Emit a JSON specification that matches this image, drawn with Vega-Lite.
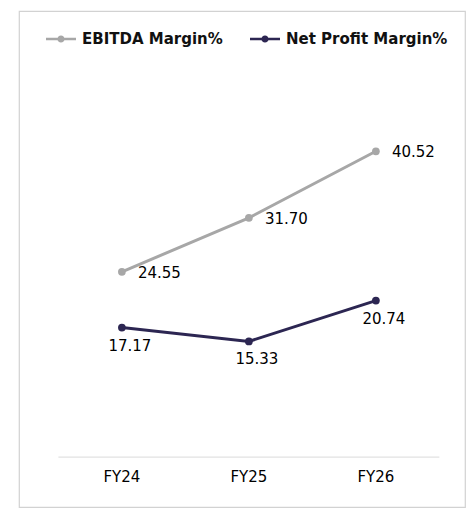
{
  "$schema": "https://vega.github.io/schema/vega-lite/v6.json",
  "width": 446,
  "height": 496,
  "autosize": {"type": "none"},
  "padding": {"left": 19, "top": 11, "right": 11, "bottom": 14},
  "background": "white",
  "config": {
    "view": {"stroke": "#d2d2d2", "strokeWidth": 1.2},
    "font": "DejaVu Sans"
  },
  "data": {
    "values": [
      {"year": "FY24", "series": "EBITDA Margin%", "value": 24.55},
      {"year": "FY25", "series": "EBITDA Margin%", "value": 31.70},
      {"year": "FY26", "series": "EBITDA Margin%", "value": 40.52},
      {"year": "FY24", "series": "Net Profit Margin%", "value": 17.17},
      {"year": "FY25", "series": "Net Profit Margin%", "value": 15.33},
      {"year": "FY26", "series": "Net Profit Margin%", "value": 20.74}
    ]
  },
  "encoding": {
    "x": {
      "field": "year",
      "type": "ordinal",
      "sort": ["FY24", "FY25", "FY26"],
      "scale": {"type": "band", "paddingInner": 0, "paddingOuter": 0.256, "align": 0.606},
      "axis": {
        "title": null,
        "orient": "bottom",
        "offset": -50,
        "domain": false,
        "ticks": false,
        "grid": false,
        "labelAngle": 0,
        "labelPadding": 12,
        "labelFont": "DejaVu Sans",
        "labelFontSize": 15,
        "labelColor": "#000000"
      }
    },
    "y": {
      "field": "value",
      "type": "quantitative",
      "scale": {"domain": [-6.6, 59.1], "nice": false, "zero": false},
      "axis": null
    }
  },
  "layer": [
    {
      "data": {"values": [{"from": "FY24", "to": "FY26", "base": 0}]},
      "mark": {"type": "rule", "color": "#e2e2e2", "strokeWidth": 1.2, "xOffset": -63.5, "x2Offset": 63.5},
      "encoding": {
        "x": {"field": "from", "type": "ordinal", "sort": ["FY24", "FY25", "FY26"]},
        "x2": {"field": "to"},
        "y": {"field": "base", "type": "quantitative"}
      }
    },
    {
      "encoding": {
        "color": {
          "field": "series",
          "type": "nominal",
          "scale": {"domain": ["EBITDA Margin%", "Net Profit Margin%"], "range": ["#a7a7a7", "#2c2652"]},
          "legend": {
            "title": null,
            "orient": "none",
            "legendX": 27,
            "legendY": 13,
            "direction": "horizontal",
            "symbolType": "M-1,-0.08H1V0.08H-1Z M0.24,0A0.24,0.24 0 1,1 -0.24,0A0.24,0.24 0 1,1 0.24,0Z",
            "symbolSize": 900,
            "symbolOpacity": 1,
            "symbolStrokeWidth": 0,
            "labelFont": "DejaVu Sans",
            "labelFontWeight": "bold",
            "labelFontSize": 15,
            "labelColor": "#111111",
            "labelOffset": 6,
            "columnPadding": 27,
            "labelLimit": 300
          }
        }
      },
      "layer": [
        {"mark": {"type": "line", "strokeWidth": 3}},
        {"mark": {"type": "point", "filled": true, "size": 60, "opacity": 1}}
      ]
    },
    {
      "transform": [{"filter": "datum.series == 'EBITDA Margin%'"}],
      "mark": {"type": "text", "align": "left", "baseline": "middle", "dx": 16, "dy": 1, "fontSize": 15, "color": "#000000"},
      "encoding": {
        "text": {"field": "value", "type": "quantitative", "format": ".2f"}
      }
    },
    {
      "transform": [{"filter": "datum.series == 'Net Profit Margin%'"}],
      "mark": {"type": "text", "align": "center", "baseline": "middle", "dx": 8, "dy": 18, "fontSize": 15, "color": "#000000"},
      "encoding": {
        "text": {"field": "value", "type": "quantitative", "format": ".2f"}
      }
    }
  ]
}
